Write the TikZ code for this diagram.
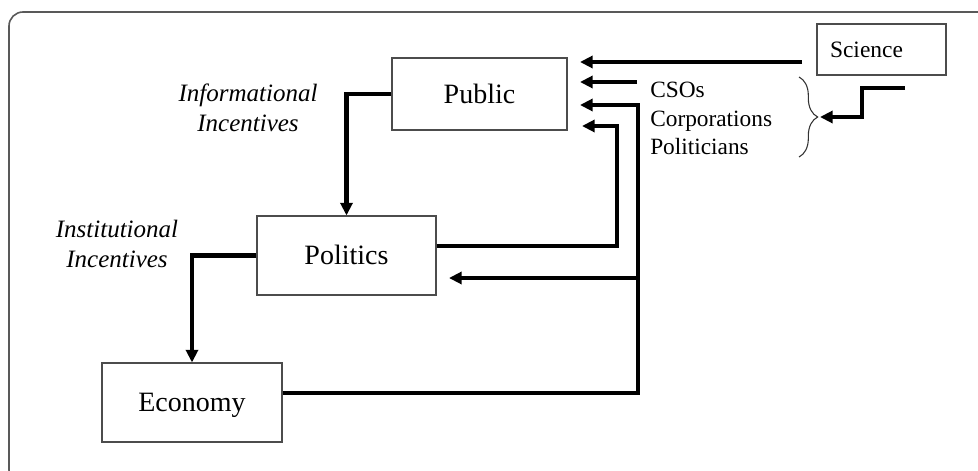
\documentclass[tikz,border=0pt]{standalone}
\usepackage{fontspec}
\setmainfont{Liberation Serif}
\usetikzlibrary{arrows.meta,decorations.pathreplacing}
\tikzset{
  box/.style={draw=black!70, line width=0.8pt, inner sep=0pt, text height=13.9pt, text depth=0pt, font=\fontsize{21}{25}\selectfont},
  conn/.style={line width=3.2pt, line join=miter, -{Triangle[length=9.5pt,width=9pt]}},
  lab/.style={font=\fontsize{18.75}{22.5}\selectfont\itshape, align=center, inner sep=0pt, anchor=north},
  frame/.style={draw=black!65, line width=1.2pt, rounded corners=10.5pt}
}
\begin{document}
\begin{tikzpicture}[x=0.75pt,y=-0.75pt]
\useasboundingbox (0,0) rectangle (978,471);
\begin{scope}
\clip (0,0) rectangle (978,471);
\draw[frame] (9,12) rectangle (1000,484);
\end{scope}
% boxes
\node[box, minimum width=131.25pt, minimum height=54pt] (public) at (479.5,94) {Public};
\node[box, minimum width=134.25pt, minimum height=59.25pt] (politics) at (346.5,255.5) {Politics};
\node[box, minimum width=135pt, minimum height=59.25pt] (economy) at (192,402.5) {Economy};
\node[box, minimum width=96.75pt, minimum height=38.25pt, text width=77.25pt, inner xsep=9.75pt, align=left, text height=11.6pt, font=\fontsize{17.6}{21}\selectfont] (science) at (881.5,49.5) {Science};
% texts
\node[font=\fontsize{17.5}{21.4}\selectfont, align=left, inner sep=0pt, anchor=north west] (actors) at (650,82) {CSOs\\Corporations\\Politicians};
\node[lab] (info) at (248,84) {Informational\\Incentives};
\node[lab] (inst) at (117,220) {Institutional\\Incentives};
% tips and free ends
\coordinate (t1) at (580,62);
\coordinate (t2) at (580,82);
\coordinate (t3) at (580,105);
\coordinate (t4) at (582,126);
\coordinate (t5) at (449,278);
\coordinate (t6) at (820,117);
\coordinate (s1) at (802,62);
\coordinate (s2) at (637,82);
\coordinate (s6) at (905,88);
\coordinate (b5) at (638,278);
% connectors
\draw[conn] (public.west) -| (politics.north);
\draw[conn] (politics.west) -| (economy.north);
\draw[conn] (s1) -- (t1);
\draw[conn] (s2) -- (t2);
\draw[conn] (economy.east |- 0,393) -| (638,105) -- (t3);
\draw[conn] (politics.east |- 0,246) -| (617,126) -- (t4);
\draw[conn] (b5) -- (t5);
\draw[conn] (s6) -| (862,117) -- (t6);
% brace
\draw[draw=black!80, line width=0.8pt, decoration={brace, amplitude=14pt}, decorate] (799,77) -- (799,157);
\end{tikzpicture}
\end{document}
